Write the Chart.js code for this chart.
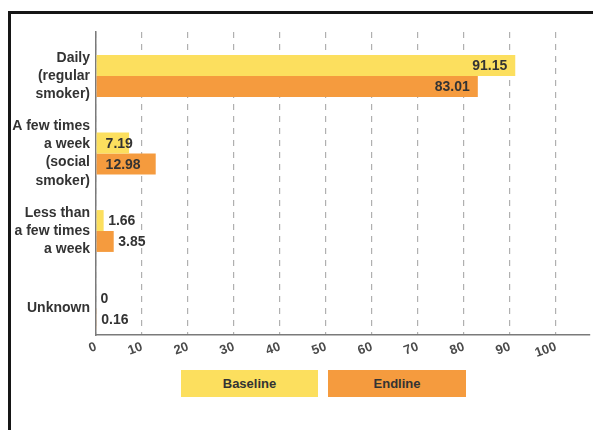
<!DOCTYPE html>
<html>
<head>
<meta charset="utf-8">
<script src="https://cdn.jsdelivr.net/npm/chart.js@4"></script>
<style>
  html, body { margin: 0; padding: 0; background: #fff; width: 593px; height: 430px; overflow: hidden; position: relative; }
  #frame { position: absolute; left: 8px; top: 11px; width: 640px; height: 480px; border: 3px solid #161616; box-sizing: border-box; }
  #chart { position: absolute; left: 0; top: 0; }
  .key { position: absolute; top: 370px; height: 27px; text-align: center;
         font: bold 13px "Liberation Sans", Arial, sans-serif; line-height: 27px; color: #333; }
</style>
</head>
<body>
<div id="frame"></div>
<canvas id="chart" width="593" height="430"></canvas>
<div id="keys"></div>
<script>
// Smoking frequency, share of respondents (%)
const categories = [
  ["Daily", "(regular", "smoker)"],
  ["A few times", "a week", "(social", "smoker)"],
  ["Less than", "a few times", "a week"],
  ["Unknown"]
];
const seriesNames = ["Baseline", "Endline"];
const baseline = [91.15, 7.19, 1.66, 0];
const endline = [83.01, 12.98, 3.85, 0.16];
const xTicks = [0, 10, 20, 30, 40, 50, 60, 70, 80, 90, 100];

const colors = ["#FCDF5E", "#F59B3E"];
const textFont = '"Liberation Sans", Arial, sans-serif';

// Legend swatches with the series names written inside
const keyBoxes = [{ left: 181, width: 137 }, { left: 328, width: 138 }];
const keysEl = document.getElementById("keys");
seriesNames.forEach((name, i) => {
  const d = document.createElement("div");
  d.className = "key";
  d.style.left = keyBoxes[i].left + "px";
  d.style.width = keyBoxes[i].width + "px";
  d.style.background = colors[i];
  d.textContent = name;
  keysEl.appendChild(d);
});

// Value labels: inside the end of long bars, inside the start of medium bars,
// just past the end of short ones
const valueLabels = {
  id: "valueLabels",
  afterDatasetsDraw(chart) {
    const ctx = chart.ctx;
    ctx.save();
    ctx.font = "bold 14px " + textFont;
    ctx.fillStyle = "#333";
    ctx.textBaseline = "middle";
    chart.data.datasets.forEach((ds, di) => {
      chart.getDatasetMeta(di).data.forEach((bar, i) => {
        const v = ds.data[i];
        let x;
        if (v >= 50) { ctx.textAlign = "right"; x = bar.x - 8; }
        else if (v >= 5) { ctx.textAlign = "left"; x = bar.base + 9; }
        else { ctx.textAlign = "left"; x = bar.x + 4.5; }
        ctx.fillText(String(v), x, bar.y + 1);
      });
    });
    ctx.restore();
  }
};

new Chart(document.getElementById("chart"), {
  type: "bar",
  data: {
    labels: categories.map((_, i) => i),
    datasets: [
      { label: seriesNames[0], data: baseline, backgroundColor: colors[0] },
      { label: seriesNames[1], data: endline, backgroundColor: colors[1] }
    ]
  },
  options: {
    indexAxis: "y",
    responsive: false,
    animation: false,
    devicePixelRatio: 1,
    categoryPercentage: 0.54,
    barPercentage: 1,
    layout: { padding: { top: 32, right: 3, bottom: 0, left: 0 } },
    plugins: { legend: { display: false }, tooltip: { enabled: false } },
    scales: {
      x: {
        type: "linear",
        min: 0,
        max: 107.4,
        afterBuildTicks: s => { s.ticks = xTicks.map(v => ({ value: v })); },
        afterFit: s => { s.height = 95; },
        grid: { color: "#b0b0b0", lineWidth: 1.2, drawTicks: false },
        border: { color: "#7a7a7a", width: 1.5, dash: [6, 6] },
        ticks: {
          minRotation: 20, maxRotation: 20, padding: 4,
          color: "#4a4a4a",
          font: { family: textFont, size: 13, weight: "bold" }
        }
      },
      y: {
        type: "linear",
        reverse: true,
        offset: false,
        min: -0.568,
        max: 3.342,
        afterBuildTicks: s => { s.ticks = categories.map((_, i) => ({ value: i })); },
        afterFit: s => { s.width = 96; },
        grid: { display: false, drawTicks: false },
        border: { color: "#7a7a7a", width: 1.5 },
        ticks: {
          autoSkip: false,
          padding: 6,
          color: "#333",
          font: { family: textFont, size: 14, weight: "bold", lineHeight: 1.3 },
          callback: v => categories[v]
        }
      }
    }
  },
  plugins: [valueLabels]
});
</script>
</body>
</html>
